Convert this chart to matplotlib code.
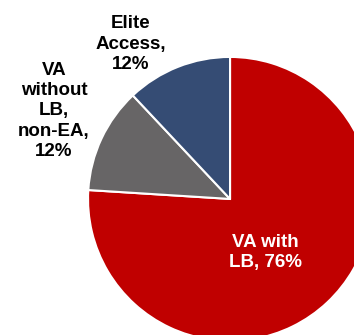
import matplotlib
matplotlib.use("Agg")
import matplotlib.pyplot as plt

# share of assets by product type
labels = ["VA with\nLB, 76%", "VA\nwithout\nLB,\nnon-EA,\n12%", "Elite\nAccess,\n12%"]
shares = [76, 12, 12]
colors = ["#C00000", "#676566", "#354C74"]
text_colors = ["white", "black", "black"]
# label positions in data units (pie radius = 1)
label_pos = [(0.25, -0.375), (-1.24, 0.62), (-0.70, 1.09)]

plt.rcParams['font.family'] = ['Liberation Sans', 'DejaVu Sans']

fig = plt.figure(figsize=(3.54, 3.35), dpi=100)
ax = fig.add_axes([0, 0, 1, 1])
wedges, _ = ax.pie(shares, colors=colors, startangle=90, counterclock=False,
                   radius=1.0, wedgeprops=dict(edgecolor="white", linewidth=1.5))

for lab, (x, y), c in zip(labels, label_pos, text_colors):
    ax.text(x, y, lab, ha="center", va="center", color=c,
            fontsize=13.5, fontweight="bold", linespacing=1.25)

ax.set_xlim(-1.62, 0.873)
ax.set_ylim(-0.958, 1.401)
ax.set_aspect("auto")
ax.axis("off")

fig.savefig("out.png", dpi=100)
